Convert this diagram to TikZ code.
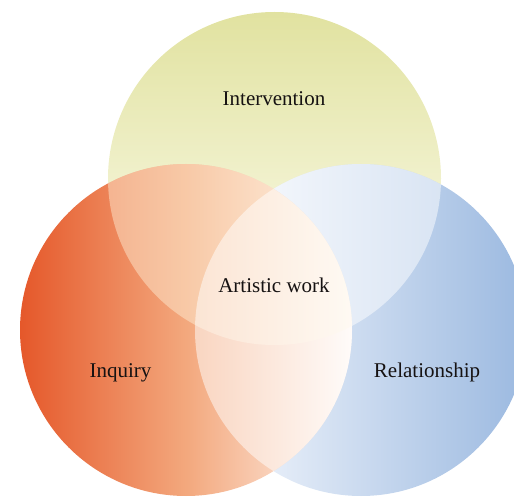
\documentclass[tikz,border=0pt]{standalone}
\usepackage{fontspec}
\setmainfont{Liberation Serif}
\begin{document}
\begin{tikzpicture}[x=1pt,y=1pt,
  lbl/.style={inner sep=0pt, anchor=base, text=labelcol, font=\fontsize{21}{24}\selectfont}]
\definecolor{labelcol}{RGB}{22,18,18}
\definecolor{topA}{RGB}{225,226,160}
\definecolor{topB}{RGB}{255,255,246}
\definecolor{leftA}{RGB}{229,88,42}
\definecolor{leftM}{RGB}{243,168,125}
\definecolor{leftB}{RGB}{255,248,244}
\definecolor{rightA}{RGB}{251,252,255}
\definecolor{rightB}{RGB}{155,185,224}
\definecolor{warmlight}{RGB}{255,242,218}
\useasboundingbox (0,0) rectangle (514,496);
\clip (0,0) rectangle (514,496);
% top circle
\shade[top color=topA, bottom color=topB] (274.5,317.5) circle (166.5);
% right circle
\shade[left color=rightA, right color=rightB] (361,166) circle (166);
% top & right overlap lightened
\begin{scope}
  \clip (274.5,317.5) circle (166.5);
  \fill[white, opacity=0.5] (361,166) circle (166);
\end{scope}
% left circle
\shade[left color=leftA, right color=leftB, middle color=leftM] (186,166) circle (166);
% top over left
\begin{scope}
  \clip (186,166) circle (166);
  \fill[warmlight, opacity=0.45] (274.5,317.5) circle (166.5);
\end{scope}
% left & right overlap lightened
\begin{scope}
  \clip (186,166) circle (166);
  \fill[white, opacity=0.5] (361,166) circle (166);
\end{scope}
% labels
\node[lbl] (intervention) at (274,390) {Intervention};
\node[lbl] (artistic) at (274,204) {Artistic work};
\node[lbl] (inquiry) at (120.5,119) {Inquiry};
\node[lbl] (relationship) at (427,119) {Relationship};
\end{tikzpicture}
\end{document}
